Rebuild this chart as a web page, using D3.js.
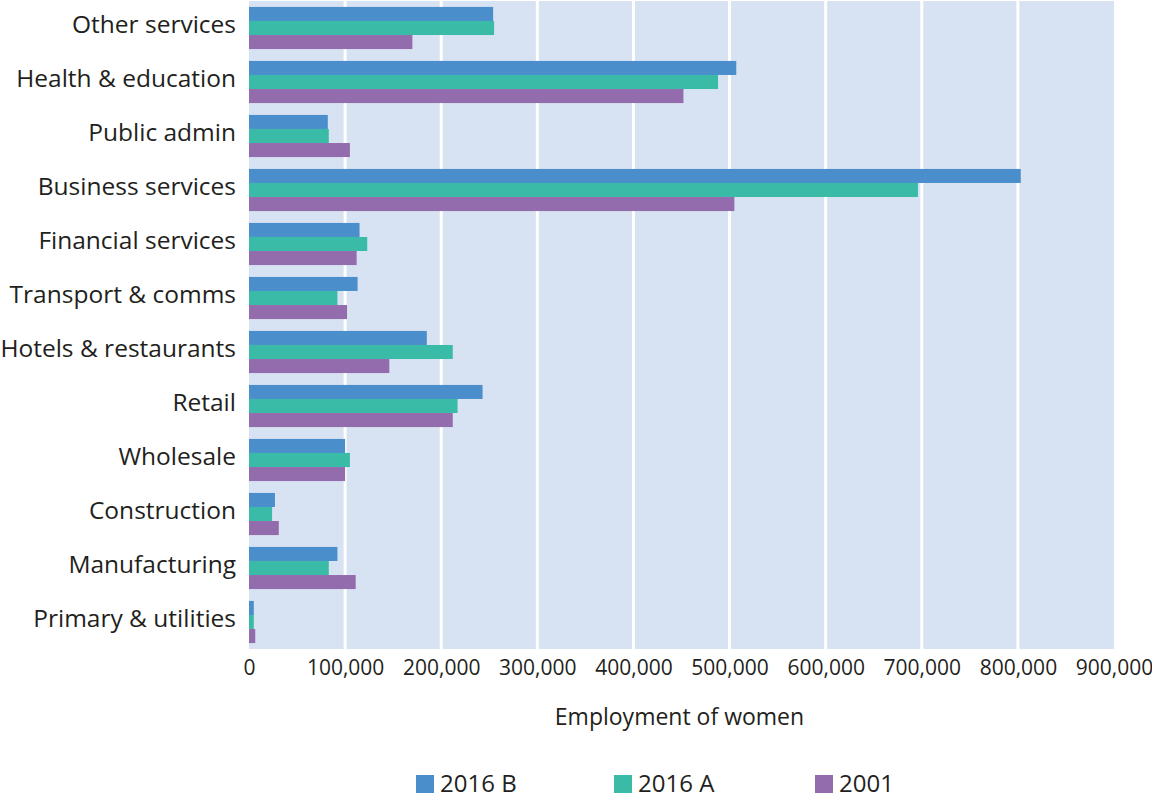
<!DOCTYPE html>
<html>
<head>
<meta charset="utf-8">
<script src="https://cdn.jsdelivr.net/npm/d3@7"></script>
<style>
  html, body { margin: 0; padding: 0; background: #ffffff; }
  svg { display: block; font-family: "Open Sans", "Noto Sans", sans-serif; }
</style>
</head>
<body>
<svg id="chart" width="1152" height="798"></svg>
<script>
const categories = ["Other services", "Health & education", "Public admin", "Business services",
  "Financial services", "Transport & comms", "Hotels & restaurants", "Retail", "Wholesale",
  "Construction", "Manufacturing", "Primary & utilities"];
const seriesNames = ["2016 B", "2016 A", "2001"];
const values2016B = [254000, 507000, 82000, 803000, 115000, 113000, 185000, 243000, 100000, 27000, 92000, 5000];
const values2016A = [255000, 488000, 83000, 696000, 123000, 92000, 212000, 217000, 105000, 24000, 83000, 5000];
const values2001  = [170000, 452000, 105000, 505000, 112000, 102000, 146000, 212000, 100000, 31000, 111000, 6500];
const xTicks = [0, 100000, 200000, 300000, 400000, 500000, 600000, 700000, 800000, 900000];
const colors = ["#4a8fcc", "#39bba7", "#936cae"];

const seriesValues = [values2016B, values2016A, values2001];
const svg = d3.select("#chart");
const pLeft = 249, pRight = 1114, pTop = 1, pBottom = 649;

const x = d3.scaleLinear().domain([0, 900000]).range([pLeft, pRight]);
const y = d3.scaleBand().domain(categories).range([pTop, pBottom]).paddingInner(0.22).paddingOuter(0.11);
const ySub = d3.scaleBand().domain(seriesNames).range([0, y.bandwidth()]);

svg.append("rect").attr("x", pLeft).attr("y", pTop).attr("width", pRight - pLeft).attr("height", pBottom - pTop)
  .attr("fill", "#d7e2f2");

svg.append("g").selectAll("line").data(xTicks.filter(t => t > 0 && t < 900000)).join("line")
  .attr("x1", d => x(d)).attr("x2", d => x(d)).attr("y1", pTop).attr("y2", pBottom)
  .attr("stroke", "#ffffff").attr("stroke-width", 3);

const groups = svg.append("g").selectAll("g").data(categories).join("g")
  .attr("transform", d => `translate(0,${y(d)})`);
groups.selectAll("rect").data((d, i) => seriesNames.map((s, j) => ({ s, v: seriesValues[j][i], j })))
  .join("rect")
  .attr("x", x(0)).attr("y", d => ySub(d.s)).attr("height", ySub.bandwidth())
  .attr("width", d => x(d.v) - x(0)).attr("fill", d => colors[d.j]);

// y labels
const yAxis = d3.axisLeft(y).tickSize(0).tickPadding(13);
const yg = svg.append("g").attr("transform", `translate(${pLeft},-3)`).call(yAxis);
yg.select(".domain").remove();
yg.selectAll("text").attr("font-size", 24.5).attr("fill", "#231f20").attr("font-family", "'Open Sans', sans-serif");

// x axis
const xAxis = d3.axisBottom(x).tickValues(xTicks).tickSize(0).tickPadding(11).tickFormat(d3.format(","));
const xg = svg.append("g").attr("transform", `translate(0,${pBottom})`).call(xAxis);
xg.select(".domain").remove();
xg.selectAll("text").attr("font-size", 21).attr("fill", "#231f20").attr("font-family", "'Open Sans', sans-serif");

svg.append("text").attr("x", (pLeft + pRight) / 2 - 2).attr("y", 725).attr("text-anchor", "middle")
  .attr("font-size", 23).attr("fill", "#231f20").text("Employment of women");

// legend
const legendX = [416, 614, 815];
const lg = svg.append("g").selectAll("g").data(seriesNames).join("g")
  .attr("transform", (d, i) => `translate(${legendX[i]},775)`);
lg.append("rect").attr("width", 18).attr("height", 18).attr("fill", (d, i) => colors[i]);
lg.append("text").attr("x", 24).attr("y", 17).attr("font-size", 24).attr("fill", "#231f20").text(d => d);
</script>
</body>
</html>
